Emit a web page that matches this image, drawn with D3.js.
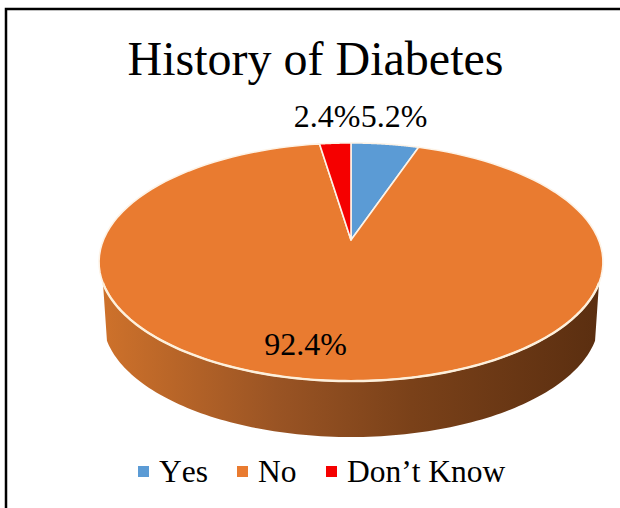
<!DOCTYPE html>
<html>
<head>
<meta charset="utf-8">
<script src="https://cdnjs.cloudflare.com/ajax/libs/d3/7.8.5/d3.min.js"></script>
<style>
html, body { margin: 0; padding: 0; background: #fff; }
text { font-family: "Liberation Serif", serif; fill: #000; }
.legend text { font-kerning: none; }
</style>
</head>
<body>
<svg id="chart" width="620" height="508"></svg>
<script>
// Values
var categories = ["Yes", "No", "Don\u2019t Know"];
var shares = [5.2, 92.4, 2.4];
var labels = ["5.2%", "92.4%", "2.4%"];
var colors = ["#5b9bd5", "#e97b30", "#f50000"];

var width = 620, height = 508;
var svg = d3.select("#chart");

// Pie layout, clockwise from 12 o'clock
var pie = d3.pie().sort(null).value(function(d){ return d; });
var slices = pie(shares);

// Tilted disc, front edge is nearer so the apex sits above the ellipse centre
var cx = 351, apexY = 240, depth = 0.185, rx = 247.6, ry = 115, wall = 58.5;

function project(a, r) {
	var s = -Math.cos(a) * r, w = 1 - depth * s;
	return [cx + rx * Math.sin(a) * r / w, apexY + ry * s / w];
}

var line = d3.line();

function arcPoints(a0, a1, r, dy) {
	return d3.range(0, 121).map(function(i){
		var p = project(a0 + (a1 - a0) * i / 120, r);
		return [p[0], p[1] + dy];
	});
}

// Gradient for the side wall
var defs = svg.append("defs");
var grad = defs.append("linearGradient").attr("id", "wallGrad")
	.attr("gradientUnits", "userSpaceOnUse")
	.attr("x1", 99).attr("x2", 603).attr("y1", 0).attr("y2", 0);
grad.append("stop").attr("offset", "0%").attr("stop-color", "#cf722b");
grad.append("stop").attr("offset", "35%").attr("stop-color", "#9a5424");
grad.append("stop").attr("offset", "62%").attr("stop-color", "#7a4119");
grad.append("stop").attr("offset", "100%").attr("stop-color", "#5a2e10");

// Border, open at the bottom and the right of the crop
svg.append("path")
	.attr("d", line([[6, height], [6, 9], [width, 9]]))
	.attr("fill", "none").attr("stroke", "#000").attr("stroke-width", 2.5);

svg.append("text").attr("x", 315.5).attr("y", 75)
	.attr("text-anchor", "middle").attr("font-size", 48)
	.text("History of Diabetes");

// Side wall: front part of the rim pushed down
var a0 = Math.PI / 2 + 0.357, a1 = 3 * Math.PI / 2 - 0.357;
var wallPts = arcPoints(a0, a1, 1, 0).concat(arcPoints(a0, a1, 0.985, wall).reverse());
svg.append("path").attr("d", line(wallPts) + "Z").attr("fill", "url(#wallGrad)");

// Top face
svg.selectAll("path.slice").data(slices).enter().append("path")
	.attr("class", "slice")
	.attr("d", function(d){
		return line([project(0, 0)].concat(arcPoints(d.startAngle, d.endAngle, 1, 0))) + "Z";
	})
	.attr("fill", function(d, i){ return colors[i]; })
	.attr("stroke", "#fdf3e7").attr("stroke-width", 1.6).attr("stroke-linejoin", "round");

// Brighter highlight along the front rim
svg.append("path").attr("d", line(arcPoints(a0, a1, 1, 0)))
	.attr("fill", "none").attr("stroke", "#fdf0dc").attr("stroke-width", 2.4);

// Data labels
var labelPos = [[394, 127], [305.5, 355], [327, 127]];
svg.selectAll("text.label").data(labels).enter().append("text")
	.attr("class", "label")
	.attr("x", function(d, i){ return labelPos[i][0]; })
	.attr("y", function(d, i){ return labelPos[i][1]; })
	.attr("text-anchor", "middle").attr("font-size", 32)
	.text(function(d){ return d; });

// Legend
var legendX = [138, 237, 326];
var legend = svg.selectAll("g.legend").data(categories).enter().append("g")
	.attr("class", "legend")
	.attr("transform", function(d, i){ return "translate(" + legendX[i] + ",472)"; });
legend.append("rect").attr("y", -6).attr("width", 11).attr("height", 11)
	.attr("fill", function(d, i){ return colors[i]; });
legend.append("text").attr("x", 21).attr("y", 10).attr("font-size", 31.5)
	.text(function(d){ return d; });
</script>
</body>
</html>
